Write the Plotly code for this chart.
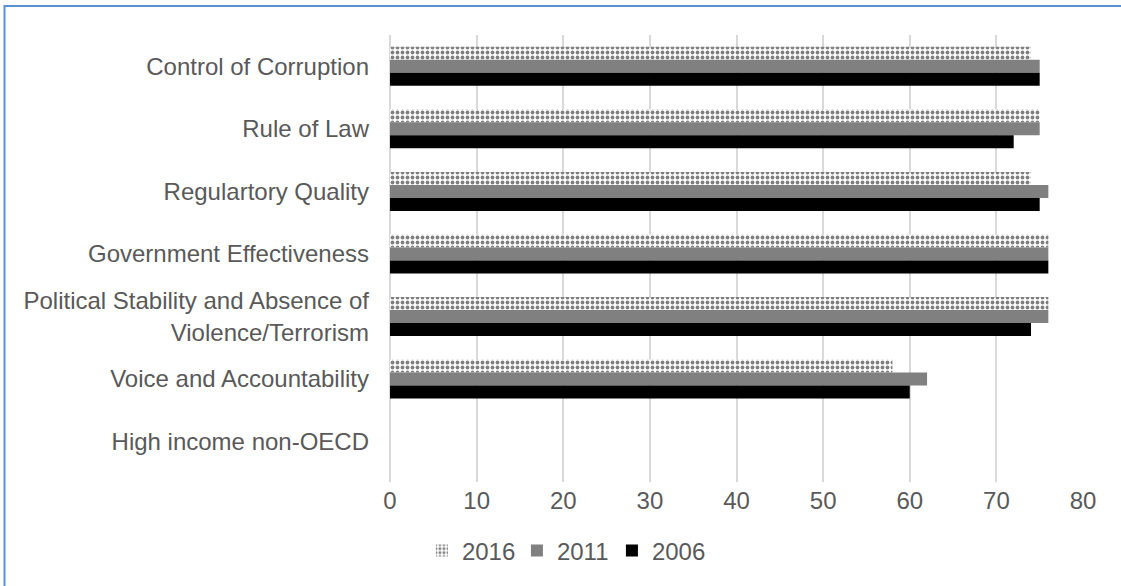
import plotly.graph_objects as go

# Governance indicators, listed top to bottom as drawn
categories = [
    "Control of Corruption",
    "Rule of Law",
    "Regulartory Quality",
    "Government Effectiveness",
    "Political Stability and Absence of<br>Violence/Terrorism",
    "Voice and Accountability",
    "High income non-OECD",
]
years = ["2016", "2011", "2006"]
values_2016 = [74, 75, 74, 76, 76, 58, None]
values_2011 = [75, 75, 76, 76, 76, 62, None]
values_2006 = [75, 72, 75, 76, 74, 60, None]
x_ticks = [0, 10, 20, 30, 40, 50, 60, 70, 80]

W, H = 1121, 586
ML, MR, MT, MB = 390, 38, 35, 104
TXT = "#595959"
FONT = "Liberation Sans, Arial, sans-serif"
FS = 24

fig = go.Figure()
fig.add_trace(go.Bar(
    y=categories, x=values_2016, name=years[0], orientation="h",
    marker=dict(color="white", line=dict(width=0),
                pattern=dict(shape=".", fgcolor="black", bgcolor="white",
                             size=5, solidity=0.45, fillmode="overlay")),
))
fig.add_trace(go.Bar(
    y=categories, x=values_2011, name=years[1], orientation="h",
    marker=dict(color="#808080", line=dict(width=0)),
))
fig.add_trace(go.Bar(
    y=categories, x=values_2006, name=years[2], orientation="h",
    marker=dict(color="#000000", line=dict(width=0)),
))

pw = W - ML - MR
ph = H - MT - MB
# Outer chart frame (top and left edges fall inside the page)
fig.add_shape(type="rect", xref="paper", yref="paper",
              x0=-(ML - 4.5) / pw, x1=1 + (MR + 20) / pw,
              y0=-(MB + 20) / ph, y1=1 + (MT - 6) / ph,
              line=dict(color="#5B8FD6", width=2), fillcolor="rgba(0,0,0,0)",
              layer="below")

fig.update_layout(
    width=W, height=H,
    margin=dict(l=ML, r=MR, t=MT, b=MB, pad=0),
    paper_bgcolor="white", plot_bgcolor="white",
    barmode="group", bargap=0.377, bargroupgap=0,
    font=dict(family=FONT, size=FS, color=TXT),
    showlegend=True,
    legend=dict(orientation="h", xref="container", yref="container",
                x=0.5035, xanchor="center", y=1 - 551 / H, yanchor="middle",
                font=dict(size=FS, color=TXT), traceorder="normal",
                itemwidth=30, entrywidth=50, entrywidthmode="pixels",
                bgcolor="rgba(0,0,0,0)"),
    xaxis=dict(range=[0, 80], tickvals=x_ticks, showgrid=True,
               gridcolor="#D9D9D9", gridwidth=1.5, zeroline=True,
               zerolinecolor="#D9D9D9", zerolinewidth=1.5,
               showline=False, ticks="", tickfont=dict(size=FS, color=TXT),
               ticklabelstandoff=2),
    yaxis=dict(range=[6.645, -0.5], categoryorder="array",
               categoryarray=categories, showgrid=False, zeroline=False,
               showline=False, ticks="", tickfont=dict(size=FS, color=TXT),
               ticklabelstandoff=20),
)

fig.write_html("out.html")
